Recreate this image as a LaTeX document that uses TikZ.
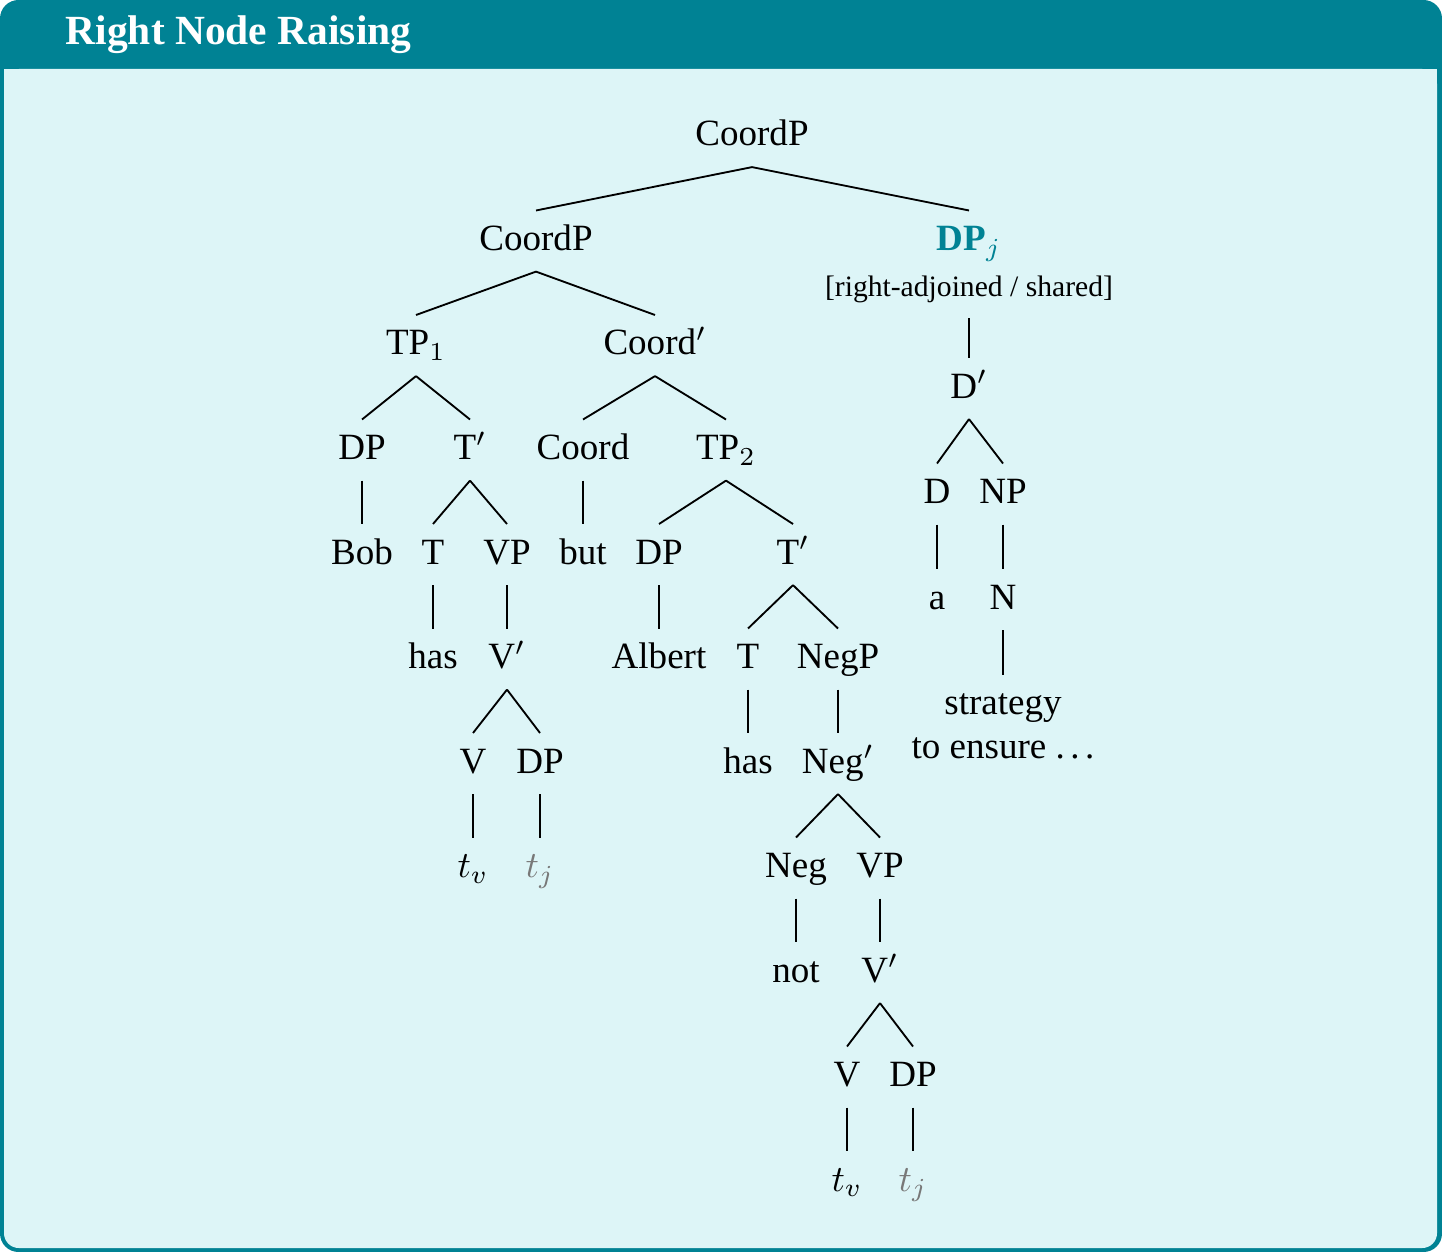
\documentclass[tikz,border=0pt]{standalone}
\usepackage{fontspec}
\setmainfont{Liberation Serif}
\usetikzlibrary{math}
\definecolor{rnrteal}{RGB}{0,130,148}
\definecolor{rnrbg}{RGB}{221,245,247}
\definecolor{tracegray}{RGB}{120,120,120}

\begin{document}
\begin{tikzpicture}[x=0.27pt,y=-0.27pt,
  cat/.style={anchor=base,inner xsep=1pt,inner ysep=4pt,text height=6.6pt,text depth=1.5pt},
  br/.style={line width=0.5pt}]
\tikzmath{
\dy=104.5;
\rA=146; \rB=\rA+\dy; \rC=\rB+\dy; \rD=\rC+\dy; \rE=\rD+\dy; \rF=\rE+\dy;
\rG=\rF+\dy; \rH=\rG+\dy; \rI=\rH+\dy; \rJ=\rI+\dy; \rK=\rJ+\dy;
\ds=105.5;
\sA=398; \sB=\sA+\ds; \sC=\sB+\ds; \sD=\sC+\ds;
}
\useasboundingbox (0,0) rectangle (1442,1252);

% box and title bar
\fill[rnrteal,rounded corners=5pt] (0,0) rectangle (1442,1252);
\fill[rnrbg,rounded corners=4pt] (4,69) rectangle (1437,1248);
\fill[rnrbg] (4,69) rectangle (1437,100);
\node[anchor=base west,inner sep=0,text=white,font=\bfseries\fontsize{11.2}{13}\selectfont] (title) at (65,45) {Right Node Raising};

% top of the tree
\node[cat] (cp0) at (752,\rA) {CoordP};
\node[cat] (cp1) at (536,\rB) {CoordP};
\node[cat,font=\bfseries,text=rnrteal] (dpj) at (969,\rB) {DP$_j$};
\node[cat,font=\footnotesize] (shared) at (969,297) {[right-adjoined / shared]};

% first conjunct
\node[cat] (tp1) at (416,\rC) {TP$_1$};
\node[cat] (dp1) at (362,\rD) {DP};
\node[cat] (tbar1) at (470,\rD) {T$'$};
\node[cat] (bob) at (362,\rE) {Bob};
\node[cat] (t1) at (433,\rE) {T};
\node[cat] (vp1) at (507,\rE) {VP};
\node[cat] (has1) at (433,\rF) {has};
\node[cat] (vbar1) at (507,\rF) {V$'$};
\node[cat] (v1) at (473,\rG) {V};
\node[cat] (dpt1) at (540,\rG) {DP};
\node[cat] (tv1) at (473,\rH) {$t_v$};
\node[cat,text=tracegray] (tj1) at (540,\rH) {$t_j$};

% second conjunct
\node[cat] (cbar) at (655,\rC) {Coord$'$};
\node[cat] (coord) at (583,\rD) {Coord};
\node[cat] (tp2) at (726,\rD) {TP$_2$};
\node[cat] (but) at (583,\rE) {but};
\node[cat] (dp2) at (659,\rE) {DP};
\node[cat] (tbar2) at (793,\rE) {T$'$};
\node[cat] (albert) at (659,\rF) {Albert};
\node[cat] (t2) at (748,\rF) {T};
\node[cat] (negp) at (838,\rF) {NegP};
\node[cat] (has2) at (748,\rG) {has};
\node[cat] (negbar) at (838,\rG) {Neg$'$};
\node[cat] (neg) at (796,\rH) {Neg};
\node[cat] (vp2) at (880,\rH) {VP};
\node[cat] (not) at (796,\rI) {not};
\node[cat] (vbar2) at (880,\rI) {V$'$};
\node[cat] (v2) at (847,\rJ) {V};
\node[cat] (dpt2) at (913,\rJ) {DP};
\node[cat] (tv2) at (847,\rK) {$t_v$};
\node[cat,text=tracegray] (tj2) at (913,\rK) {$t_j$};

% shared DP
\node[cat] (dbar) at (969,\sA) {D$'$};
\node[cat] (d) at (937,\sB) {D};
\node[cat] (np) at (1003,\sB) {NP};
\node[cat] (a) at (937,\sC) {a};
\node[cat] (n) at (1003,\sC) {N};
\node[cat] (strat) at (1003,\sD) {strategy};
\node[cat] (ensure) at (1003,\sD+44) {to ensure .\kern.15em.\kern.15em.};

\foreach \p/\c in {cp0/cp1,cp0/dpj,cp1/tp1,cp1/cbar,
  tp1/dp1,tp1/tbar1,dp1/bob,tbar1/t1,tbar1/vp1,t1/has1,vp1/vbar1,
  vbar1/v1,vbar1/dpt1,v1/tv1,dpt1/tj1,
  cbar/coord,cbar/tp2,coord/but,tp2/dp2,tp2/tbar2,dp2/albert,
  tbar2/t2,tbar2/negp,t2/has2,negp/negbar,negbar/neg,negbar/vp2,
  neg/not,vp2/vbar2,vbar2/v2,vbar2/dpt2,v2/tv2,dpt2/tj2,
  shared/dbar,dbar/d,dbar/np,d/a,np/n,n/strat}
  \draw[br] (\p.south) -- (\c.north);
\end{tikzpicture}
\end{document}
